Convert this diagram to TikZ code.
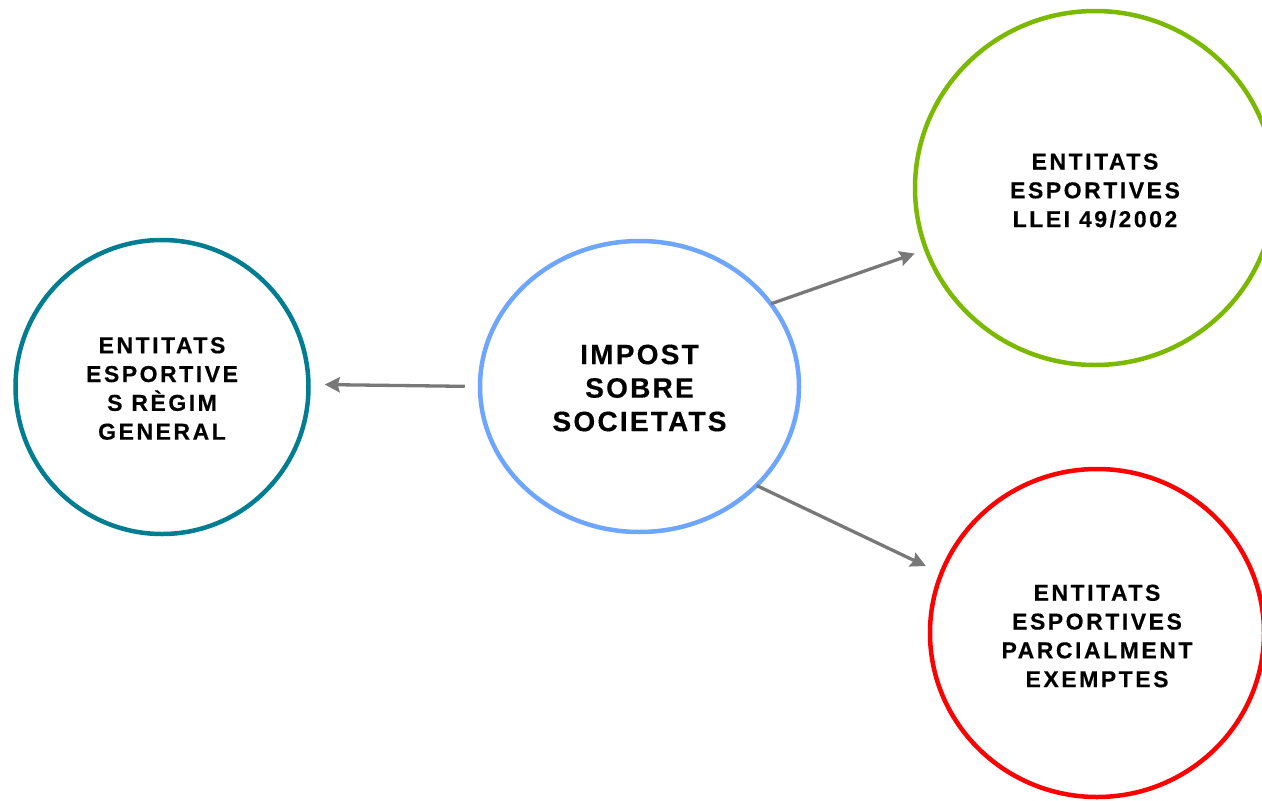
\documentclass[tikz,border=0pt]{standalone}
\usepackage{fontspec}
\setmainfont{Liberation Sans}
\usetikzlibrary{shapes.geometric,arrows.meta}
\definecolor{tealc}{RGB}{0,125,145}
\definecolor{bluec}{RGB}{110,165,255}
\definecolor{greenc}{RGB}{122,185,0}
\definecolor{redc}{RGB}{255,0,0}
\definecolor{arrowgray}{RGB}{120,120,120}
\newcommand{\lowertext}[3]{\raisebox{-#1}[\height][\depth]{\parbox{#2}{\centering #3}}}
\begin{document}
\begin{tikzpicture}[x=1pt,y=-1pt,
  circ/.style={ellipse, draw, line width=4.5pt, inner sep=0pt, align=center,
    font=\bfseries\addfontfeature{LetterSpace=11,FakeBold=0.4}\fontsize{23}{28.8}\selectfont},
  bigtext/.style={font=\bfseries\addfontfeature{LetterSpace=8,FakeBold=0.4}\fontsize{28}{33.5}\selectfont},
  conn/.style={draw=arrowgray, line width=3.3pt, -{Stealth[length=15pt,width=15pt,inset=2pt]}}
]
\useasboundingbox (0,0) rectangle (1262,801);
\node[circ, draw=tealc, minimum width=293pt, minimum height=294pt] (l) at (162,387)
  {\lowertext{1.5pt}{175pt}{ENTITATS\\ESPORTIVE\\S RÈGIM\\GENERAL}};
\node[circ, bigtext, draw=bluec, minimum width=319pt, minimum height=291pt] (c) at (639.5,386.5)
  {\lowertext{1.5pt}{190pt}{IMPOST\\SOBRE\\SOCIETATS}};
\node[circ, draw=greenc, minimum width=360pt, minimum height=354pt] (g) at (1095,188)
  {\lowertext{2.5pt}{200pt}{ENTITATS\\ESPORTIVES\\LLEI 49/2002}};
\node[circ, draw=redc, minimum width=334pt, minimum height=328pt] (r) at (1097,633)
  {\lowertext{3pt}{205pt}{ENTITATS\\ESPORTIVES\\PARCIALMENT\\EXEMPTES}};
\draw[conn, shorten <=13pt, shorten >=14pt] (c.180) -- (l.1);
\draw[conn, shorten <=-2pt, shorten >=10pt] (c.32) -- (g.200);
\draw[conn, shorten <=-2pt, shorten >=15pt] (c.-40) -- (r.159);
\end{tikzpicture}
\end{document}
